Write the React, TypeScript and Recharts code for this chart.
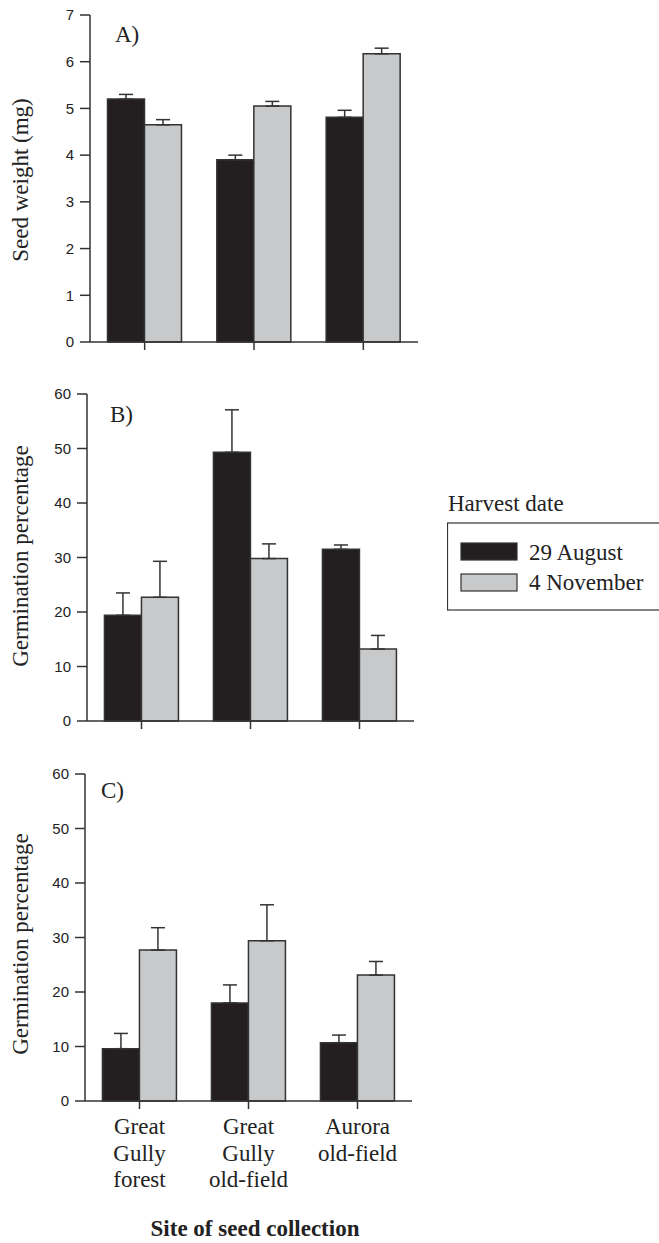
import React from 'react';
import { BarChart, Bar, XAxis, YAxis, ErrorBar, Legend, Label } from 'recharts';

// sites of seed collection (x categories)
const sites = ['Great Gully forest', 'Great Gully old-field', 'Aurora old-field'];
const siteLines = [
  ['Great', 'Gully', 'forest'],
  ['Great', 'Gully', 'old-field'],
  ['Aurora', 'old-field'],
];
const harvestDates = ['29 August', '4 November'];

// A) seed weight (mg)
const weightAug = [5.2, 3.9, 4.81];
const weightAugErr = [0.1, 0.1, 0.15];
const weightNov = [4.65, 5.05, 6.17];
const weightNovErr = [0.11, 0.1, 0.12];

// B) germination percentage
const germBAug = [19.4, 49.3, 31.5];
const germBAugErr = [4.1, 7.8, 0.8];
const germBNov = [22.7, 29.8, 13.2];
const germBNovErr = [6.6, 2.7, 2.5];

// C) germination percentage
const germCAug = [9.6, 18.0, 10.7];
const germCAugErr = [2.8, 3.3, 1.4];
const germCNov = [27.7, 29.4, 23.1];
const germCNovErr = [4.1, 6.6, 2.5];

const weightTicks = [0, 1, 2, 3, 4, 5, 6, 7];
const germTicks = [0, 10, 20, 30, 40, 50, 60];

const BLACK = '#231f20';
const GREY = '#c8c9cb';
const INK = '#333';
const SERIF = '"Liberation Serif", "DejaVu Serif", serif';
const SANS = '"Liberation Sans", Arial, sans-serif';

const buildRows = (aug: number[], augErr: number[], nov: number[], novErr: number[]) =>
  sites.map((site, i) => ({
    site,
    aug: aug[i],
    nov: nov[i],
    augErr: [0, augErr[i]],
    novErr: [0, novErr[i]],
  }));

const SiteTick = ({ x, y, index }: any) => {
  const lines = siteLines[index] || [];
  return (
    <text x={x} y={y + 23} textAnchor="middle" fontFamily={SERIF} fontSize={23} fill="#222">
      {lines.map((l, i) => (
        <tspan key={i} x={x} dy={i === 0 ? 0 : 26.5}>
          {l}
        </tspan>
      ))}
    </text>
  );
};

// keeps the tick marks but draws no label
const NoLabel = () => <g />;

const HarvestLegend = ({ payload }: any) => (
  <svg width={212} height={125} style={{ overflow: 'hidden', display: 'block' }}>
    <text x={1} y={21} fontFamily={SERIF} fontSize={23} fill="#222">
      Harvest date
    </text>
    <rect x={0.5} y={33} width={260} height={87} fill="none" stroke={INK} strokeWidth={1.2} />
    {(payload || []).map((p: any, i: number) => (
      <g key={i}>
        <rect x={14} y={53 + i * 31} width={56} height={17} fill={p.color} stroke={INK} strokeWidth={1.2} />
        <text x={82} y={70 + i * 30} fontFamily={SERIF} fontSize={23} fill="#222">
          {p.value}
        </text>
      </g>
    ))}
  </svg>
);

interface PanelProps {
  top: number;
  plotTop: number;
  xHeight: number;
  yWidth: number;
  right: number;
  rows: any[];
  domain: [number, number];
  ticks: number[];
  letter: string;
  letterX: number;
  letterY: number;
  yLabel: string;
  yLabelY: number;
  showSites?: boolean;
  showLegend?: boolean;
}

const Panel = (p: PanelProps) => {
  const height = p.plotTop + 327 + p.xHeight;
  return (
    <div style={{ position: 'absolute', left: 0, top: p.top }}>
      <BarChart
        width={659}
        height={height}
        data={p.rows}
        margin={{ top: p.plotTop, right: p.right, bottom: 0, left: 0 }}
        barCategoryGap="16%"
        barGap={0}
      >
        <XAxis
          dataKey="site"
          height={p.xHeight}
          axisLine={{ stroke: INK, strokeWidth: 1.5 }}
          tickLine={{ stroke: INK, strokeWidth: 1.5 }}
          tickSize={8}
          tick={p.showSites ? <SiteTick /> : <NoLabel />}
          interval={0}
        >
          {p.showSites && (
            <Label
              content={() => (
                <text x={255} y={476} textAnchor="middle" fontFamily={SERIF} fontSize={23} fontWeight="bold" fill="#222">
                  Site of seed collection
                </text>
              )}
            />
          )}
        </XAxis>
        <YAxis
          width={p.yWidth}
          domain={p.domain}
          ticks={p.ticks}
          interval={0}
          axisLine={{ stroke: INK, strokeWidth: 1.5 }}
          tickLine={{ stroke: INK, strokeWidth: 1.5 }}
          tickSize={10}
          tickMargin={6}
          tick={{ fontFamily: SANS, fontSize: 15, fill: '#222' }}
        >
          <Label
            content={() => (
              <text
                x={28}
                y={p.yLabelY}
                transform={`rotate(-90, 28, ${p.yLabelY})`}
                textAnchor="middle"
                fontFamily={SERIF}
                fontSize={23}
                fill="#222"
              >
                {p.yLabel}
              </text>
            )}
          />
          <Label
            content={() => (
              <text x={p.letterX} y={p.letterY} fontFamily={SERIF} fontSize={23} fill="#222">
                {p.letter}
              </text>
            )}
          />
        </YAxis>
        {p.showLegend && (
          <Legend
            layout="horizontal"
            align="center"
            verticalAlign="middle"
            content={<HarvestLegend />}
            wrapperStyle={{ left: 447, top: 110, width: 212, height: 125 }}
          />
        )}
        <Bar dataKey="aug" name={harvestDates[0]} fill={BLACK} stroke={INK} strokeWidth={1.5} isAnimationActive={false}>
          <ErrorBar dataKey="augErr" width={7} stroke={INK} strokeWidth={1.5} direction="y" isAnimationActive={false} />
        </Bar>
        <Bar dataKey="nov" name={harvestDates[1]} fill={GREY} stroke={INK} strokeWidth={1.5} isAnimationActive={false}>
          <ErrorBar dataKey="novErr" width={7} stroke={INK} strokeWidth={1.5} direction="y" isAnimationActive={false} />
        </Bar>
      </BarChart>
    </div>
  );
};

export default function App() {
  return (
    <div
      style={{
        position: 'absolute',
        left: 0,
        top: 0,
        width: 659,
        height: 1243,
        overflow: 'hidden',
        background: '#fff',
      }}
    >
      <Panel
        top={0}
        plotTop={15}
        xHeight={20}
        yWidth={90}
        right={241}
        rows={buildRows(weightAug, weightAugErr, weightNov, weightNovErr)}
        domain={[0, 7]}
        ticks={weightTicks}
        letter="A)"
        letterX={115}
        letterY={42}
        yLabel="Seed weight (mg)"
        yLabelY={180}
      />
      <Panel
        top={380}
        plotTop={14}
        xHeight={20}
        yWidth={87}
        right={245}
        rows={buildRows(germBAug, germBAugErr, germBNov, germBNovErr)}
        domain={[0, 60]}
        ticks={germTicks}
        letter="B)"
        letterX={110}
        letterY={42}
        yLabel="Germination percentage"
        yLabelY={176}
        showLegend
      />
      <Panel
        top={760}
        plotTop={14}
        xHeight={140}
        yWidth={85}
        right={247}
        rows={buildRows(germCAug, germCAugErr, germCNov, germCNovErr)}
        domain={[0, 60]}
        ticks={germTicks}
        letter="C)"
        letterX={101}
        letterY={38}
        yLabel="Germination percentage"
        yLabelY={184}
        showSites
      />
    </div>
  );
}
